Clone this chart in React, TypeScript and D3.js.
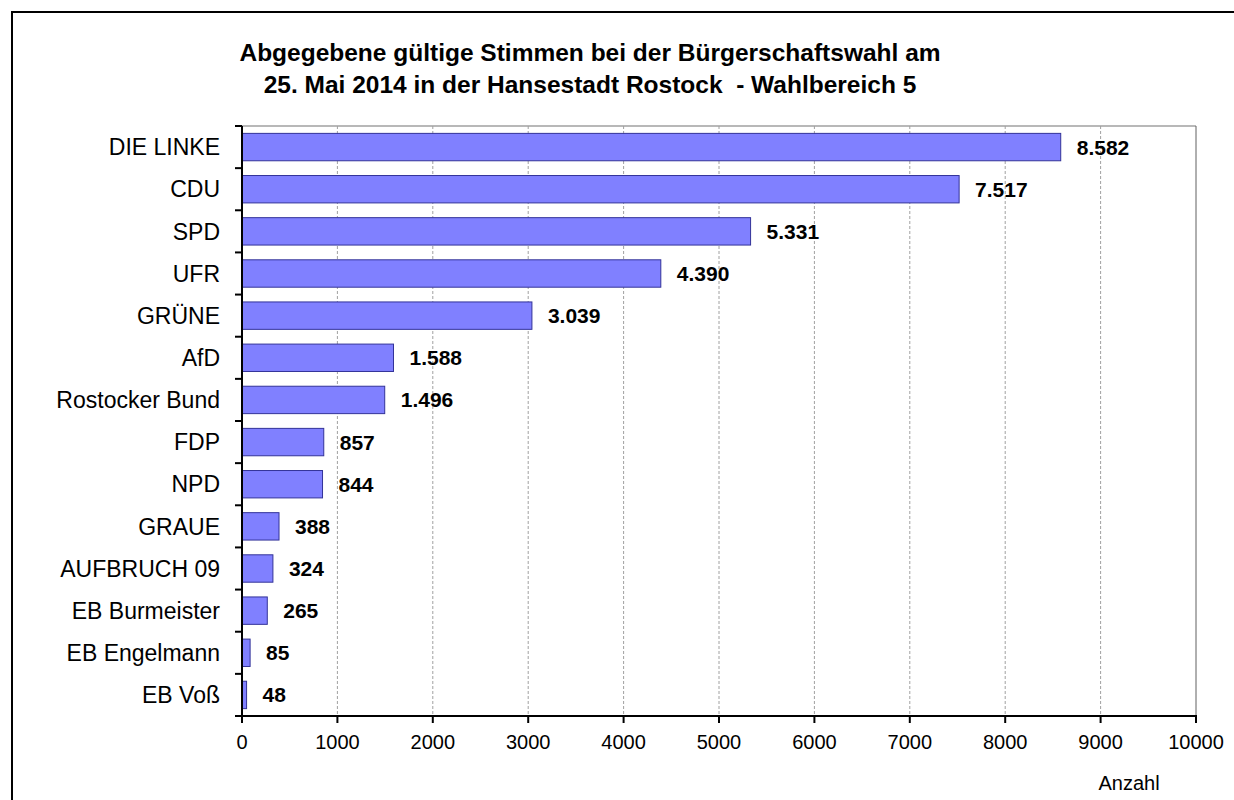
import React, {useEffect, useRef} from 'react';
import * as d3 from 'd3';

// Stimmen je Partei, Wahlbereich 5
const parties: string[] = [
  "DIE LINKE", "CDU", "SPD", "UFR", "GRÜNE", "AfD", "Rostocker Bund",
  "FDP", "NPD", "GRAUE", "AUFBRUCH 09", "EB Burmeister", "EB Engelmann", "EB Voß"
];
const votes: number[] = [8582, 7517, 5331, 4390, 3039, 1588, 1496, 857, 844, 388, 324, 265, 85, 48];
const xTicks: number[] = [0, 1000, 2000, 3000, 4000, 5000, 6000, 7000, 8000, 9000, 10000];
const titleLines: string[] = [
  "Abgegebene gültige Stimmen bei der Bürgerschaftswahl am",
  "25. Mai 2014 in der Hansestadt Rostock  - Wahlbereich 5"
];
const axisTitle = "Anzahl";

const App = () => {
  const ref = useRef<SVGSVGElement | null>(null);

  useEffect(() => {
    document.body.style.margin = "0";
    drawChart();
    return () => {
      if (ref.current) d3.select(ref.current).selectAll("*").remove();
    };
  }, []);

  const drawChart = () => {
    const width = 1234;
    const height = 800;
    const plot = {left: 242, right: 1196, top: 126, bottom: 716};
    const font = "'Liberation Sans', Arial, sans-serif";

    const de = d3.formatLocale({decimal: ",", thousands: ".", grouping: [3], currency: ["", " €"]});
    const fmt = de.format(",d");

    const svg = d3.select(ref.current)
      .attr("width", width)
      .attr("height", height)
      .style("font-family", font);

    svg.append("rect")
      .attr("width", width).attr("height", height).attr("fill", "white");

    // outer frame (runs off the right and bottom edge)
    svg.append("rect")
      .attr("x", 12).attr("y", 12)
      .attr("width", width + 20).attr("height", height + 20)
      .attr("fill", "none").attr("stroke", "black").attr("stroke-width", 2);

    const x = d3.scaleLinear().domain([0, 10000]).range([plot.left, plot.right]);
    const y = d3.scaleBand<string>().domain(parties).range([plot.top, plot.bottom])
      .paddingInner(0.35).paddingOuter(0.175);

    // title (keeps the double space before the dash)
    svg.append("text")
      .attr("text-anchor", "middle")
      .attr("font-size", 24.5)
      .attr("font-weight", "bold")
      .style("white-space", "pre")
      .selectAll("tspan")
      .data(titleLines)
      .enter().append("tspan")
      .attr("x", 590)
      .attr("y", (_d, i) => 61 + i * 32)
      .text(d => d);

    // grid
    svg.append("g").selectAll("line")
      .data(xTicks.filter(t => t > 0 && t < 10000))
      .enter().append("line")
      .attr("x1", d => x(d)).attr("x2", d => x(d))
      .attr("y1", plot.top).attr("y2", plot.bottom)
      .attr("stroke", "#a0a0a0").attr("stroke-width", 1)
      .attr("stroke-dasharray", "3,2");

    // plot frame top / right
    svg.append("line")
      .attr("x1", plot.left).attr("x2", plot.right)
      .attr("y1", plot.top).attr("y2", plot.top)
      .attr("stroke", "#a0a0a0").attr("stroke-width", 1.5);
    svg.append("line")
      .attr("x1", plot.right).attr("x2", plot.right)
      .attr("y1", plot.top).attr("y2", plot.bottom)
      .attr("stroke", "#606060").attr("stroke-width", 1);

    // bars
    svg.append("g").selectAll("rect")
      .data(parties)
      .enter().append("rect")
      .attr("x", x(0))
      .attr("y", d => y(d) as number)
      .attr("width", (_d, i) => x(votes[i]) - x(0))
      .attr("height", y.bandwidth())
      .attr("fill", "#8080ff")
      .attr("stroke", "#333399")
      .attr("stroke-width", 1);

    // value labels
    svg.append("g").selectAll("text")
      .data(parties)
      .enter().append("text")
      .attr("x", (_d, i) => x(votes[i]) + 16)
      .attr("y", d => (y(d) as number) + y.bandwidth() / 2)
      .attr("dy", "0.36em")
      .attr("font-size", 21)
      .attr("font-weight", "bold")
      .text((_d, i) => fmt(votes[i]));

    // category labels
    svg.append("g").selectAll("text")
      .data(parties)
      .enter().append("text")
      .attr("x", 220)
      .attr("y", d => (y(d) as number) + y.bandwidth() / 2)
      .attr("dy", "0.36em")
      .attr("text-anchor", "end")
      .attr("font-size", 23)
      .text(d => d);

    // y axis with ticks at band boundaries
    const bounds = d3.range(parties.length + 1).map(i => plot.top + i * y.step());
    svg.append("line")
      .attr("x1", plot.left).attr("x2", plot.left)
      .attr("y1", plot.top).attr("y2", plot.bottom + 6)
      .attr("stroke", "black").attr("stroke-width", 2);
    svg.append("g").selectAll("line")
      .data(bounds)
      .enter().append("line")
      .attr("x1", plot.left - 7).attr("x2", plot.left)
      .attr("y1", d => d).attr("y2", d => d)
      .attr("stroke", "black").attr("stroke-width", 2);

    // x axis
    svg.append("line")
      .attr("x1", plot.left - 7).attr("x2", plot.right + 1)
      .attr("y1", plot.bottom).attr("y2", plot.bottom)
      .attr("stroke", "black").attr("stroke-width", 2);
    const xt = svg.append("g").selectAll("g")
      .data(xTicks)
      .enter().append("g");
    xt.append("line")
      .attr("x1", d => x(d)).attr("x2", d => x(d))
      .attr("y1", plot.bottom).attr("y2", plot.bottom + 7)
      .attr("stroke", "black").attr("stroke-width", 2);
    xt.append("text")
      .attr("x", d => x(d))
      .attr("y", 749)
      .attr("text-anchor", "middle")
      .attr("font-size", 20)
      .text(d => String(d));

    svg.append("text")
      .attr("x", 1129)
      .attr("y", 790)
      .attr("text-anchor", "middle")
      .attr("font-size", 20)
      .text(axisTitle);
  };

  return (
    <div>
      <svg ref={ref} style={{display: "block"}}></svg>
    </div>
  );
};

export default App;
